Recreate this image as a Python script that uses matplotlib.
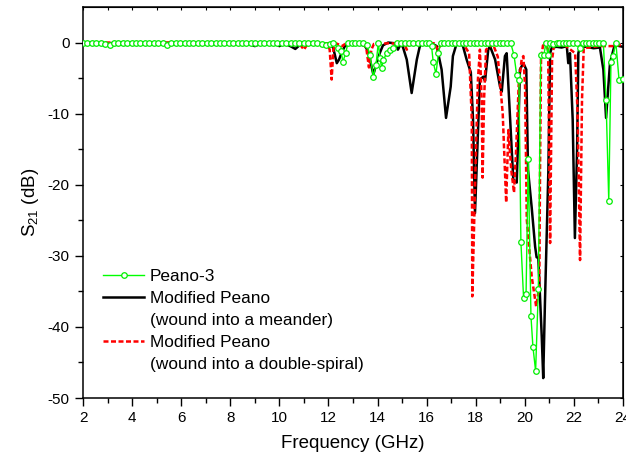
import numpy as np
import matplotlib
matplotlib.use("Agg")
import matplotlib.pyplot as plt
from matplotlib.lines import Line2D

plt.rcParams['font.family'] = ['Liberation Sans', 'DejaVu Sans']
plt.rcParams['mathtext.fontset'] = 'custom'
plt.rcParams['mathtext.rm'] = 'Liberation Sans'
plt.rcParams['mathtext.default'] = 'regular'
plt.rcParams['axes.unicode_minus'] = False

# Peano-3 (green, open circles)
peano_f = [2.00, 2.18, 2.36, 2.54, 2.72, 2.90, 3.08, 3.26,
           3.44, 3.62, 3.80, 3.98, 4.16, 4.34, 4.52, 4.70,
           4.88, 5.06, 5.24, 5.42, 5.60, 5.78, 5.96, 6.14,
           6.32, 6.50, 6.68, 6.86, 7.04, 7.22, 7.40, 7.58,
           7.76, 7.94, 8.12, 8.30, 8.48, 8.66, 8.84, 9.02,
           9.20, 9.38, 9.56, 9.74, 9.92, 10.10, 10.28, 10.46,
           10.64, 10.82, 11.00, 11.18, 11.36, 11.54, 11.72, 11.90,
           12.06, 12.20, 12.39, 12.51, 12.59, 12.70, 12.80, 12.95,
           13.10, 13.25, 13.40, 13.55, 13.69, 13.83, 13.94, 14.03,
           14.10, 14.17, 14.23, 14.37, 14.51, 14.63, 14.78, 14.95,
           15.12, 15.29, 15.46, 15.63, 15.80, 15.97, 16.10, 16.20,
           16.27, 16.38, 16.48, 16.57, 16.72, 16.87, 17.02, 17.17,
           17.32, 17.47, 17.62, 17.77, 17.92, 18.07, 18.22, 18.37,
           18.52, 18.67, 18.82, 18.97, 19.12, 19.27, 19.42, 19.56,
           19.67, 19.76, 19.84, 19.95, 20.05, 20.14, 20.25, 20.33,
           20.44, 20.55, 20.65, 20.78, 20.86, 20.94, 21.03, 21.16,
           21.30, 21.40, 21.54, 21.68, 21.81, 21.95, 22.11, 22.25,
           22.38, 22.49, 22.63, 22.77, 22.90, 23.03, 23.20, 23.31,
           23.42, 23.51, 23.59, 23.71, 23.84, 23.98]
peano_db = [0.0, 0.0, 0.0, 0.0, -0.1, -0.2, -0.3, -0.1,
            0.0, 0.0, 0.0, 0.0, 0.0, 0.0, 0.0, 0.0,
            0.0, 0.0, -0.1, -0.4, -0.1, 0.0, 0.0, 0.0,
            0.0, 0.0, 0.0, 0.0, 0.0, 0.0, 0.0, 0.0,
            0.0, 0.0, 0.0, 0.0, 0.0, 0.0, 0.0, 0.0,
            0.0, 0.0, 0.0, 0.0, 0.0, 0.0, 0.0, 0.0,
            0.0, 0.0, 0.0, 0.0, 0.0, -0.1, -0.2, -0.4,
            -0.2, -0.1, -0.7, -1.2, -2.7, -1.5, 0.0, 0.0,
            0.0, -0.1, 0.0, -0.3, -1.7, -4.8, -3.1, 0.0,
            -2.2, -3.6, -2.5, -1.5, -1.1, -0.7, -0.1, 0.0,
            0.0, -0.1, 0.0, 0.0, -0.1, 0.0, 0.0, -0.5,
            -2.8, -4.4, -1.5, -0.1, 0.0, 0.0, -0.1, 0.0,
            0.0, 0.0, -0.1, 0.0, 0.0, 0.0, -0.1, 0.0,
            0.0, -0.1, 0.0, 0.0, -0.1, 0.0, 0.0, -1.8,
            -4.6, -5.2, -28.0, -36.0, -35.4, -16.4, -38.5, -42.8,
            -46.2, -34.7, -1.7, -1.7, 0.0, -1.7, 0.0, -0.2,
            -0.1, 0.0, -0.1, 0.0, 0.0, 0.0, 0.0, -0.7,
            0.0, 0.0, 0.0, 0.0, 0.0, 0.0, 0.0, -8.1,
            -22.3, -2.8, -1.9, 0.0, -5.3, -5.1]

# Modified Peano, wound into a meander (black)
meander_f = [2.0, 3.0, 4.0, 5.0, 6.0, 7.0, 8.0, 8.7, 9.0, 9.3,
             9.8, 10.0, 10.2, 10.5, 10.65, 10.85, 11.2, 11.8, 12.05, 12.19,
             12.34, 12.43, 12.54, 12.67, 12.88, 13.2, 13.49, 13.61, 13.69, 13.83,
             13.97, 14.1, 14.22, 14.43, 14.7, 14.83, 14.95, 15.04, 15.19, 15.39,
             15.6, 15.73, 15.95, 16.2, 16.3, 16.41, 16.61, 16.79, 16.98, 17.07,
             17.2, 17.36, 17.48, 17.63, 17.8, 17.89, 17.97, 18.06, 18.17, 18.31,
             18.38, 18.51, 18.58, 18.79, 18.99, 19.06, 19.19, 19.26, 19.36, 19.53,
             19.67, 19.74, 19.8, 19.94, 20.06, 20.13, 20.28, 20.42, 20.48, 20.55,
             20.69, 20.75, 20.82, 20.89, 20.96, 21.03, 21.1, 21.3, 21.5, 21.71,
             21.77, 21.84, 21.95, 22.04, 22.13, 22.18, 22.25, 22.5, 22.8, 23.06,
             23.2, 23.31, 23.47, 23.61, 23.67, 23.85, 24.0]
meander_db = [0.0, -0.1, 0.0, -0.1, 0.0, -0.1, 0.0, -0.1, -0.5, -0.1,
              -0.1, -0.5, -0.1, -0.6, -0.9, -0.3, -0.1, -0.2, -0.3, -0.7,
              -2.9, -2.4, -1.4, -0.5, -0.1, -0.1, -0.5, -1.2, -2.4, -4.5,
              -2.8, -1.4, -0.4, 0.0, -0.1, -1.0, -0.2, -0.7, -2.4, -7.1,
              -2.4, -0.4, -0.1, -0.1, -0.3, -0.5, -3.8, -10.6, -6.2, -1.9,
              -0.4, -0.1, -0.5, -2.4, -4.2, -10.8, -24.0, -15.5, -5.2, -4.8,
              -5.4, -1.0, -0.5, -2.4, -6.2, -6.9, -1.9, -1.5, -8.0, -19.3,
              -19.7, -12.0, -3.8, -2.9, -3.8, -17.9, -23.2, -28.7, -30.2, -30.3,
              -41.4, -47.2, -36.6, -27.3, -17.9, -1.5, -0.7, -0.6, -0.7, -0.5,
              -2.9, -1.5, -10.8, -27.5, -15.0, -1.5, -0.5, -0.6, -0.8, -0.7,
              -3.8, -10.6, -2.9, -1.0, -0.3, -0.5, -0.6]

# Modified Peano, wound into a double-spiral (red dashed)
spiral_f = [2.0, 4.0, 6.0, 8.0, 10.0, 10.8, 11.0, 11.15, 11.95, 12.05,
            12.13, 12.2, 12.3, 12.58, 12.7, 13.45, 13.55, 13.65, 13.75, 13.85,
            14.5, 15.1, 15.19, 15.3, 16.3, 16.45, 16.6, 17.5, 17.73, 17.84,
            17.86, 17.93, 18.01, 18.09, 18.17, 18.24, 18.28, 18.34, 18.42, 18.7,
            18.9, 19.1, 19.24, 19.33, 19.45, 19.56, 19.64, 19.75, 19.87, 19.94,
            20.01, 20.08, 20.28, 20.46, 20.59, 20.62, 20.66, 20.74, 20.86, 20.95,
            21.03, 21.11, 21.19, 21.6, 22.05, 22.15, 22.25, 22.33, 22.4, 23.0,
            23.6, 24.0]
spiral_db = [0.0, 0.0, 0.0, 0.0, -0.1, -0.1, -1.0, -0.2, -0.1, -1.0,
             -5.2, -1.0, -0.1, -0.5, -0.1, -0.2, -1.0, -3.5, -1.0, -0.2,
             -0.1, -0.2, -1.0, -0.2, -0.1, -1.0, -0.2, -0.2, -1.5, -10.8,
             -35.7, -26.3, -15.0, -5.2, -1.0, -8.0, -19.0, -8.0, -1.0, -0.2,
             -2.0, -10.0, -22.5, -12.3, -18.0, -21.1, -15.5, -6.0, -2.4, -1.9,
             -6.2, -24.9, -32.9, -37.1, -34.3, -17.9, -2.4, -0.4, -0.5, -1.0,
             -28.2, -2.4, -0.4, -0.3, -1.5, -10.0, -30.6, -8.0, -0.8, -0.5,
             -0.5, -0.3]

labels = ["Peano-3", "Modified Peano", "(wound into a meander)",
          "Modified Peano", "(wound into a double-spiral)"]

fig = plt.figure(figsize=(6.26, 4.61), dpi=100)
ax = fig.add_axes([83/626, 1 - 398/461, 540/626, 391/461])

ax.plot(meander_f, meander_db, color='black', lw=1.8, zorder=2)
ax.plot(spiral_f, spiral_db, color='red', lw=1.8, dashes=(2, 1), zorder=3)
ax.plot(peano_f, peano_db, color='#00ff00', lw=1.0, marker='o', ms=4,
        mfc='white', mec='#00ee00', mew=0.9, zorder=4)

ax.set_xlim(2, 24)
ax.set_ylim(-50, 5)
ax.set_xticks(np.arange(2, 25, 2))
ax.set_xticks(np.arange(3, 24, 2), minor=True)
ax.set_yticks([-50, -40, -30, -20, -10, 0])
ax.set_yticks([-45, -35, -25, -15, -5], minor=True)
ax.tick_params(which='major', direction='out', length=6, width=1.0, labelsize=11)
ax.tick_params(which='minor', direction='out', length=3.5, width=1.0)
for s in ax.spines.values():
    s.set_linewidth(1.1)

top = ax.secondary_xaxis('top')
top.set_xticks(np.arange(2, 25, 1))
top.tick_params(direction='in', length=2.5, width=0.8, labeltop=False)
right = ax.secondary_yaxis('right')
right.set_yticks(np.arange(-50, 6, 5))
right.tick_params(direction='in', length=2.5, width=0.8, labelright=False)

ax.set_xlabel("Frequency (GHz)", fontsize=13.5, labelpad=7)
ax.set_ylabel("S$_{21}$ (dB)", fontsize=13.5, labelpad=5)

handles = [Line2D([], [], color='#00ff00', lw=1.0, marker='o', ms=4,
                  mfc='white', mec='#00ee00', mew=0.9),
           Line2D([], [], color='black', lw=1.8),
           Line2D([], [], color='none'),
           Line2D([], [], color='red', lw=1.8, dashes=(2, 1)),
           Line2D([], [], color='none')]
ax.legend(handles, labels, loc='upper left', bbox_to_anchor=(0.025, 0.347),
          frameon=False, fontsize=12.4, handlelength=2.35, handletextpad=0.35,
          labelspacing=0.4, numpoints=1, borderaxespad=0)

fig.savefig("out.png", dpi=100)
